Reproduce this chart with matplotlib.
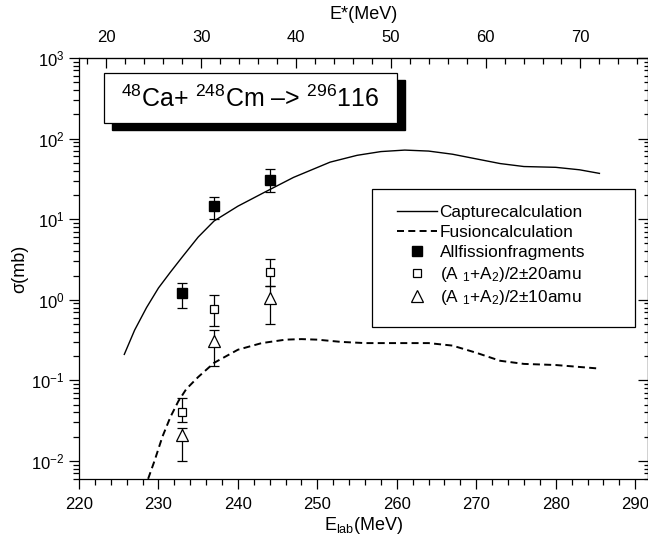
import matplotlib
matplotlib.use("Agg")
import matplotlib.pyplot as plt
from matplotlib.lines import Line2D
from matplotlib.patches import Rectangle
from matplotlib.ticker import MultipleLocator, FixedLocator, LogLocator, NullFormatter

plt.rcParams['font.family'] = ['Liberation Sans', 'DejaVu Sans']
plt.rcParams['mathtext.fontset'] = 'custom'
plt.rcParams['mathtext.rm'] = 'Liberation Sans'
plt.rcParams['mathtext.it'] = 'Liberation Sans:italic'
plt.rcParams['mathtext.bf'] = 'Liberation Sans:bold'

# calculated capture cross section
capture_e = [225.7, 227, 228.5, 230, 231.5, 233, 235, 237, 240, 243.4, 247,
             251.6, 255, 258, 261, 264, 267, 270, 273, 276, 280, 283, 285.5]
capture_sigma = [0.21, 0.42, 0.8, 1.4, 2.2, 3.4, 6.0, 9.5, 14.5, 21.7, 33,
                 51, 62, 69, 72, 70, 64, 56, 49, 45, 44, 41, 37]

# calculated fusion cross section
fusion_e = [228.7, 229.5, 230.5, 231.5, 232.5, 233.5, 235, 237, 240, 243, 246,
            248, 250, 253, 256, 260, 264, 267, 270, 273, 276, 280, 285.5]
fusion_sigma = [0.006, 0.01, 0.02, 0.035, 0.055, 0.078, 0.11, 0.165, 0.24, 0.29, 0.32,
                0.325, 0.32, 0.3, 0.29, 0.29, 0.29, 0.27, 0.22, 0.175, 0.16, 0.155, 0.14]

# measured points: value with lower / upper ends of the error bar
exp_e = [233, 237, 244]
all_fission = [1.2, 14.5, 31]
all_fission_lo = [0.8, 10, 22]
all_fission_hi = [1.6, 18.7, 42]
mass20 = [0.04, 0.76, 2.2]
mass20_lo = [0.03, 0.47, 1.5]
mass20_hi = [0.06, 1.15, 3.2]
mass10 = [0.021, 0.31, 1.05]
mass10_lo = [0.01, 0.15, 0.5]
mass10_hi = [0.026, 0.42, 1.5]

E_TICKS = [20, 30, 40, 50, 60, 70]

FUSION_DASH = (3.6, 2.2)


def lab_to_ex(e):
  return e * 248.0 / 296.0 - 167.2


def ex_to_lab(e):
  return (e + 167.2) * 296.0 / 248.0


def yerr(val, lo, hi):
  return [[v - l for v, l in zip(val, lo)], [h - v for v, h in zip(val, hi)]]


fig = plt.figure(figsize=(6.48, 5.42), dpi=100)
ax = fig.add_axes([79 / 648, 1 - 479 / 542, 568.5 / 648, 421 / 542])

ax.plot(capture_e, capture_sigma, color='black', lw=1.0)
ax.plot(fusion_e, fusion_sigma, color='black', lw=1.4, dashes=FUSION_DASH)

ebar = dict(fmt='none', ecolor='black', elinewidth=0.9, capsize=3.5, capthick=0.9)
ax.errorbar(exp_e, all_fission, yerr=yerr(all_fission, all_fission_lo, all_fission_hi), **ebar)
ax.errorbar(exp_e, mass20, yerr=yerr(mass20, mass20_lo, mass20_hi), **ebar)
ax.errorbar(exp_e, mass10, yerr=yerr(mass10, mass10_lo, mass10_hi), **ebar)

ax.plot(exp_e, all_fission, 's', color='black', ms=7, zorder=4)
ax.plot(exp_e, mass20, 's', mfc='white', mec='black', mew=0.9, ms=6, zorder=4)
ax.plot(exp_e, mass10, '^', mfc='white', mec='black', mew=0.9, ms=9, zorder=4)

ax.set_yscale('log')
ax.set_xlim(220, 291.55)
ax.set_ylim(10 ** -2.224, 1000)

ax.xaxis.set_major_locator(MultipleLocator(10))
ax.xaxis.set_minor_locator(MultipleLocator(2))
ax.yaxis.set_major_locator(LogLocator(base=10, numticks=10))
ax.yaxis.set_minor_locator(LogLocator(base=10, subs=range(2, 10), numticks=20))
ax.yaxis.set_minor_formatter(NullFormatter())
ax.tick_params(axis='both', which='both', direction='out', top=False, right=False,
               labelsize=12, width=0.9, colors='black')
ax.tick_params(which='major', length=7)
ax.tick_params(which='minor', length=4)
ax.tick_params(axis='x', pad=6)
for s in ax.spines.values():
  s.set_linewidth(0.9)

# right side: same log ticks pointing inwards, no labels
right = ax.secondary_yaxis('right')
right.yaxis.set_major_locator(LogLocator(base=10, numticks=10))
right.yaxis.set_minor_locator(LogLocator(base=10, subs=range(2, 10), numticks=20))
right.tick_params(which='both', direction='in', labelright=False, width=0.9)
right.tick_params(which='major', length=7)
right.tick_params(which='minor', length=3)

# excitation energy on top
top = ax.secondary_xaxis('top', functions=(lab_to_ex, ex_to_lab))
top.xaxis.set_major_locator(FixedLocator(E_TICKS))
top.xaxis.set_minor_locator(MultipleLocator(2))
top.tick_params(which='both', direction='in', labelsize=12, width=0.9, pad=9)
top.tick_params(which='major', length=7)
top.tick_params(which='minor', length=4)
top.set_xlabel('E*(MeV)', fontsize=13, labelpad=8)

ax.set_xlabel(r'E$_{\mathrm{lab}}$(MeV)', fontsize=13, labelpad=2)
ax.set_ylabel(r'σ(mb)', fontsize=13, labelpad=2)

# reaction label with drop shadow
fig.patches.append(Rectangle((112 / 648, 1 - 130 / 542), 293 / 648, 50 / 542,
                             transform=fig.transFigure, facecolor='black',
                             edgecolor='black', zorder=5))
fig.patches.append(Rectangle((104 / 648, 1 - 123 / 542), 293 / 648, 50 / 542,
                             transform=fig.transFigure, facecolor='white',
                             edgecolor='black', lw=0.9, zorder=6))
fig.text(250 / 648, 1 - 99 / 542, r'$^{48}$Ca+ $^{248}$Cm –> $^{296}$116',
         fontsize=18, ha='center', va='center', zorder=7)

# legend frame
ax.add_patch(Rectangle(((372 - 79) / 568.5, (479 - 327) / 421), 263 / 568.5, 138 / 421,
                       transform=ax.transAxes, facecolor='white', edgecolor='black',
                       lw=0.9, zorder=5))
handles = [
  Line2D([], [], color='black', lw=1.0),
  Line2D([], [], color='black', lw=1.4, dashes=FUSION_DASH),
  Line2D([], [], ls='none', marker='s', color='black', ms=7),
  Line2D([], [], ls='none', marker='s', mfc='white', mec='black', mew=0.9, ms=6),
  Line2D([], [], ls='none', marker='^', mfc='white', mec='black', mew=0.9, ms=8),
]
labels = [
  'Capturecalculation',
  'Fusioncalculation',
  'Allfissionfragments',
  r'(A $_1$+A$_2$)/2±20amu',
  r'(A $_1$+A$_2$)/2±10amu',
]
leg = ax.legend(handles, labels, loc='upper left',
                bbox_to_anchor=((397 - 79) / 568.5, (479 - 205) / 421),
                frameon=False, fontsize=12.4, handlelength=2.35, handletextpad=0.12,
                labelspacing=0.28, borderpad=0, borderaxespad=0)
leg.set_zorder(6)

fig.savefig('out.png', dpi=100)
